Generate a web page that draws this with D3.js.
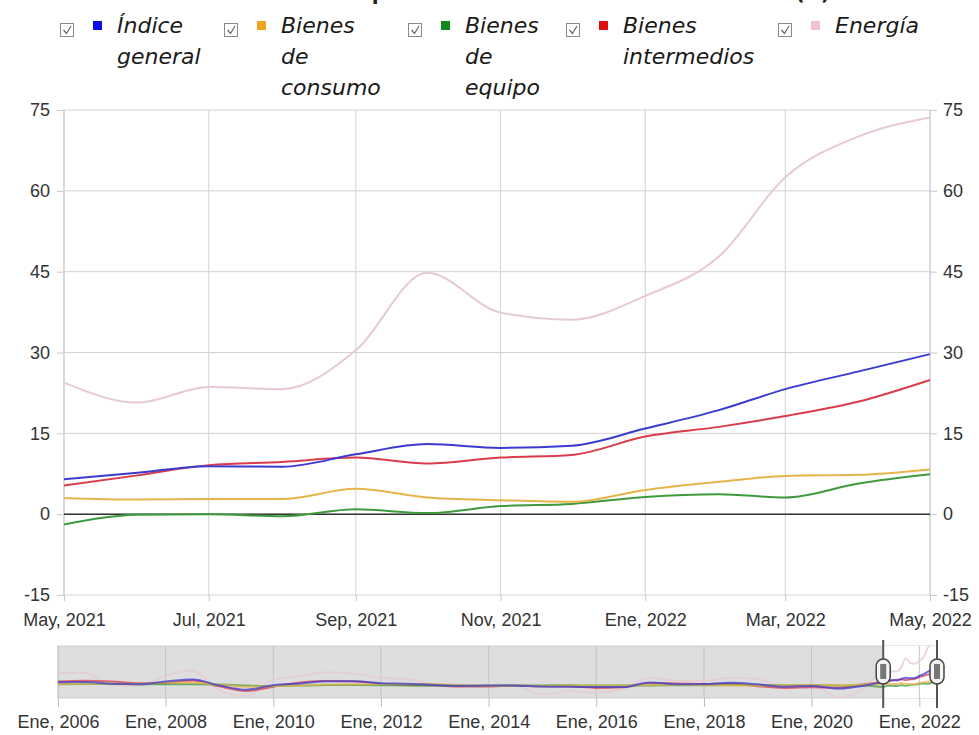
<!DOCTYPE html>
<html>
<head>
<meta charset="utf-8">
<script src="https://cdn.jsdelivr.net/npm/d3@7"></script>
<style>
  body { margin: 0; background: #fff; }
  svg { display: block; font-family: "DejaVu Sans", Verdana, sans-serif; }
</style>
</head>
<body>
<svg id="chart" width="979" height="735"></svg>
<script>
// Months shown in the main chart
var meses = ["2021-05","2021-06","2021-07","2021-08","2021-09","2021-10","2021-11",
             "2021-12","2022-01","2022-02","2022-03","2022-04","2022-05"];

// Annual rate of change (%) per series
var general     = [6.5, 7.7, 8.9, 8.8, 11.1, 13.0, 12.3, 12.7, 15.9, 19.3, 23.2, 26.5, 29.7];
var consumo     = [3.0, 2.7, 2.8, 2.8, 4.7, 3.1, 2.6, 2.3, 4.5, 6.0, 7.1, 7.3, 8.3];
var equipo      = [-1.9, -0.1, 0.0, -0.4, 0.9, 0.2, 1.5, 1.9, 3.2, 3.7, 3.1, 5.7, 7.4];
var intermedios = [5.3, 7.2, 9.1, 9.7, 10.5, 9.4, 10.5, 11.0, 14.4, 16.2, 18.2, 20.9, 24.9];
var energia     = [24.4, 20.7, 23.6, 23.2, 30.4, 44.8, 37.4, 36.1, 40.5, 47.8, 62.5, 70.1, 73.6];

// Earlier history, only drawn in the navigator (read roughly off the small strip)
var navFechas = ["2006-01","2006-07","2007-01","2007-07","2008-01","2008-07","2009-01","2009-07",
                 "2010-01","2010-07","2011-01","2011-07","2012-01","2012-07","2013-01","2013-07",
                 "2014-01","2014-07","2015-01","2015-07","2016-01","2016-07","2017-01","2017-07",
                 "2018-01","2018-07","2019-01","2019-07","2020-01","2020-07","2021-01"];
var navGeneral     = [5.8, 6.2, 3.2, 2.4, 6.8, 10.2, 0.5, -6.5, 1.0, 3.8, 7.2, 7.5, 4.3, 3.4, 1.3, 0.0,
                      0.4, 0.2, -1.3, -1.6, -2.2, -2.1, 5.5, 2.5, 2.7, 4.8, 2.3, -1.5, -0.4, -4.5, 0.5];
var navConsumo     = [3.0, 3.2, 3.5, 2.6, 5.2, 5.0, 1.8, -1.5, -0.5, 0.6, 2.0, 2.6, 2.5, 2.9, 2.7, 1.2,
                      0.0, -0.4, -0.5, 0.5, 0.2, 0.6, 1.5, 1.5, 1.0, 0.6, 0.6, 0.7, 1.3, 1.0, 2.2];
var navEquipo      = [2.4, 2.7, 2.9, 2.6, 2.4, 2.6, 2.0, 0.4, -0.4, 0.3, 1.1, 1.3, 0.9, 0.6, 0.4, 0.0,
                      0.1, 0.3, 0.6, 0.7, 0.4, 0.5, 0.6, 0.9, 1.0, 1.2, 1.1, 1.0, 0.9, 0.5, 0.3];
var navIntermedios = [7.0, 8.2, 7.0, 4.0, 4.3, 8.8, -1.0, -8.7, -1.5, 5.3, 7.6, 7.3, 3.0, 1.2, 0.3, -1.4,
                      -1.3, 0.3, -0.8, -0.8, -3.5, -2.6, 4.0, 3.8, 3.0, 3.9, -0.8, -3.5, -2.5, -3.3, 2.8];
var navEnergia     = [21, 21, 0.5, 0, 16, 25, -8, -16.7, 10, 16, 22, 20, 13, 10.6, 2.5, -1.5,
                      0.8, -0.3, -14, -8.5, -11, -5.8, 13, 8, 8, 13, 10.6, -0.3, 2.5, -19.5, -3];

var yTicks = [-15, 0, 15, 30, 45, 60, 75];
var mesesCortos = ["Ene","Feb","Mar","Abr","May","Jun","Jul","Ago","Sep","Oct","Nov","Dic"];
var titulo = "Índices de precios industriales. Tasa de variación anual (%)";

var series = [
  {name: ["Índice","general"],        values: general,     nav: navGeneral,     line: "#3b3bd0", box: "#0a0ae6"},
  {name: ["Bienes","de","consumo"],   values: consumo,     nav: navConsumo,     line: "#e6b54a", box: "#f0a51e"},
  {name: ["Bienes","de","equipo"],    values: equipo,      nav: navEquipo,      line: "#3f9a3f", box: "#0f8a1a"},
  {name: ["Bienes","intermedios"],    values: intermedios, nav: navIntermedios, line: "#dc3c4a", box: "#e01010"},
  {name: ["Energía"],                 values: energia,     nav: navEnergia,     line: "#e6cad2", box: "#f2c2cb"}
];

var parse = d3.timeParse("%Y-%m");
var fechas = meses.map(parse);
var fechasNav = navFechas.map(parse).concat(fechas);
var fmt = function(d){ return mesesCortos[d.getMonth()] + ", " + d.getFullYear(); };
var fmtNum = function(d){ return String(d); }; // plain hyphen for negatives

var svg = d3.select("#chart");

// Title (mostly cut off at the top edge)
svg.append("text")
  .attr("x", 550).attr("y", 0)
  .attr("text-anchor", "middle")
  .attr("textLength", 560)
  .style("font-size", "20px").style("font-weight", "bold").style("fill", "#222")
  .text(titulo);

// ---- Main plot ----
var plotL = 64, plotR = 930, plotT = 110, plotB = 595;
var x = d3.scaleTime().domain([fechas[0], fechas[fechas.length-1]]).range([plotL, plotR]);
var y = d3.scaleLinear().domain([-15, 75]).range([plotB, plotT]);

// horizontal grid + side ticks
svg.append("g")
  .selectAll("line").data(yTicks).enter().append("line")
  .attr("x1", plotL).attr("x2", plotR)
  .attr("y1", function(d){ return y(d); }).attr("y2", function(d){ return y(d); })
  .attr("stroke", "#d2d2d2");
svg.append("g")
  .attr("transform", "translate(" + plotL + ",0)")
  .call(d3.axisLeft(y).tickValues(yTicks).tickFormat(fmtNum).tickSize(7).tickPadding(7))
  .call(function(g){
    g.select(".domain").attr("stroke", "#c8c8c8").attr("d", "M0," + plotT + "V" + plotB);
    g.selectAll("line").attr("stroke", "#c8c8c8");
    g.selectAll("text").style("font-size", "18px").style("fill", "#333");
  });
svg.append("g")
  .attr("transform", "translate(" + plotR + ",0)")
  .call(d3.axisRight(y).tickValues(yTicks).tickFormat(fmtNum).tickSize(7).tickPadding(6))
  .call(function(g){
    g.select(".domain").attr("stroke", "#c8c8c8").attr("d", "M0," + plotT + "V" + plotB);
    g.selectAll("line").attr("stroke", "#c8c8c8");
    g.selectAll("text").style("font-size", "18px").style("fill", "#333");
  });

// vertical grid + bottom labels
svg.append("g")
  .selectAll("line").data(x.ticks(d3.timeMonth.every(2))).enter().append("line")
  .attr("x1", function(d){ return x(d); }).attr("x2", function(d){ return x(d); })
  .attr("y1", plotT).attr("y2", plotB)
  .attr("stroke", "#d2d2d2");
svg.append("g")
  .attr("transform", "translate(0," + plotB + ")")
  .call(d3.axisBottom(x).ticks(d3.timeMonth.every(2)).tickFormat(fmt).tickSize(6).tickPadding(12))
  .call(function(g){
    g.select(".domain").remove();
    g.selectAll("line").attr("stroke", "#c8c8c8");
    g.selectAll("text").style("font-size", "18px").style("fill", "#333");
  });

// zero line
svg.append("line")
  .attr("x1", plotL).attr("x2", plotR).attr("y1", y(0)).attr("y2", y(0))
  .attr("stroke", "#333").attr("stroke-width", 1.5);

var line = d3.line()
  .x(function(d, i){ return x(fechas[i]); })
  .y(function(d){ return y(d); })
  .curve(d3.curveMonotoneX);

// draw energy first so it sits at the back
series.slice().reverse().forEach(function(s){
  svg.append("path")
    .attr("d", line(s.values))
    .attr("fill", "none")
    .attr("stroke", s.line)
    .attr("stroke-width", 2);
});

// ---- Legend ----
var legX = [60, 224, 408, 566, 778];
series.forEach(function(s, i){
  var g = svg.append("g").attr("transform", "translate(" + legX[i] + ",0)");
  g.append("rect").attr("x", 0.5).attr("y", 23.5).attr("width", 13).attr("height", 13)
    .attr("fill", "#fff").attr("stroke", "#8a8a8a");
  g.append("path").attr("d", "M3.5,30 L6.5,33.5 L11,26")
    .attr("fill", "none").attr("stroke", "#666").attr("stroke-width", 1.2);
  g.append("rect").attr("x", 33).attr("y", 21).attr("width", 9).attr("height", 9)
    .attr("fill", s.box);
  var t = g.append("text").attr("x", 57).attr("y", 33)
    .style("font-size", "22px").style("font-style", "italic").style("fill", "#1a1a1a");
  s.name.forEach(function(w, k){
    t.append("tspan").attr("x", 57).attr("dy", k == 0 ? 0 : 31).text(w);
  });
});

// ---- Navigator ----
var nl = 58, nr = 937, nt = 646, nb = 698;
var xN = d3.scaleTime().domain([fechasNav[0], fechasNav[fechasNav.length-1]]).range([nl, nr]);
var yN = d3.scaleLinear().domain([-20, 65]).range([nb, nt]);
var selStart = xN(fechas[0]), selEnd = xN(fechas[fechas.length-1]);

svg.append("rect").attr("x", nl).attr("y", nt).attr("width", nr - nl).attr("height", nb - nt)
  .attr("fill", "#dedede").attr("stroke", "#cfcfcf");
svg.append("rect").attr("x", selStart).attr("y", nt).attr("width", selEnd - selStart).attr("height", nb - nt)
  .attr("fill", "#fff");

svg.append("g")
  .selectAll("line").data(xN.ticks(d3.timeYear.every(2))).enter().append("line")
  .attr("x1", function(d){ return xN(d); }).attr("x2", function(d){ return xN(d); })
  .attr("y1", nt).attr("y2", nb)
  .attr("stroke", "#c4c4c4");
svg.append("g")
  .attr("transform", "translate(0," + nb + ")")
  .call(d3.axisBottom(xN).ticks(d3.timeYear.every(2)).tickFormat(fmt).tickSize(9).tickPadding(8))
  .call(function(g){
    g.select(".domain").remove();
    g.selectAll("line").attr("stroke", "#bdbdbd");
    g.selectAll("text").style("font-size", "18px").style("fill", "#333");
  });

svg.append("clipPath").attr("id", "navclip")
  .append("rect").attr("x", nl).attr("y", nt).attr("width", nr - nl).attr("height", nb - nt);

var navLine = d3.line()
  .x(function(d, i){ return xN(fechasNav[i]); })
  .y(function(d){ return yN(d); })
  .curve(d3.curveMonotoneX);

var navG = svg.append("g").attr("clip-path", "url(#navclip)");
series.slice().reverse().forEach(function(s){
  navG.append("path")
    .attr("d", navLine(s.nav.concat(s.values)))
    .attr("fill", "none")
    .attr("stroke", s.line)
    .attr("stroke-opacity", 0.75)
    .attr("stroke-width", 2);
});

// handles
[selStart, selEnd].forEach(function(hx){
  svg.append("line").attr("x1", hx).attr("x2", hx).attr("y1", 640).attr("y2", 708)
    .attr("stroke", "#555").attr("stroke-width", 2);
  svg.append("rect").attr("x", hx - 7).attr("y", 659).attr("width", 14).attr("height", 25)
    .attr("rx", 7).attr("fill", "#f4f4f4").attr("stroke", "#444").attr("stroke-width", 1.5);
  svg.append("rect").attr("x", hx - 3).attr("y", 664).attr("width", 6).attr("height", 15)
    .attr("fill", "#777");
});
</script>
</body>
</html>
